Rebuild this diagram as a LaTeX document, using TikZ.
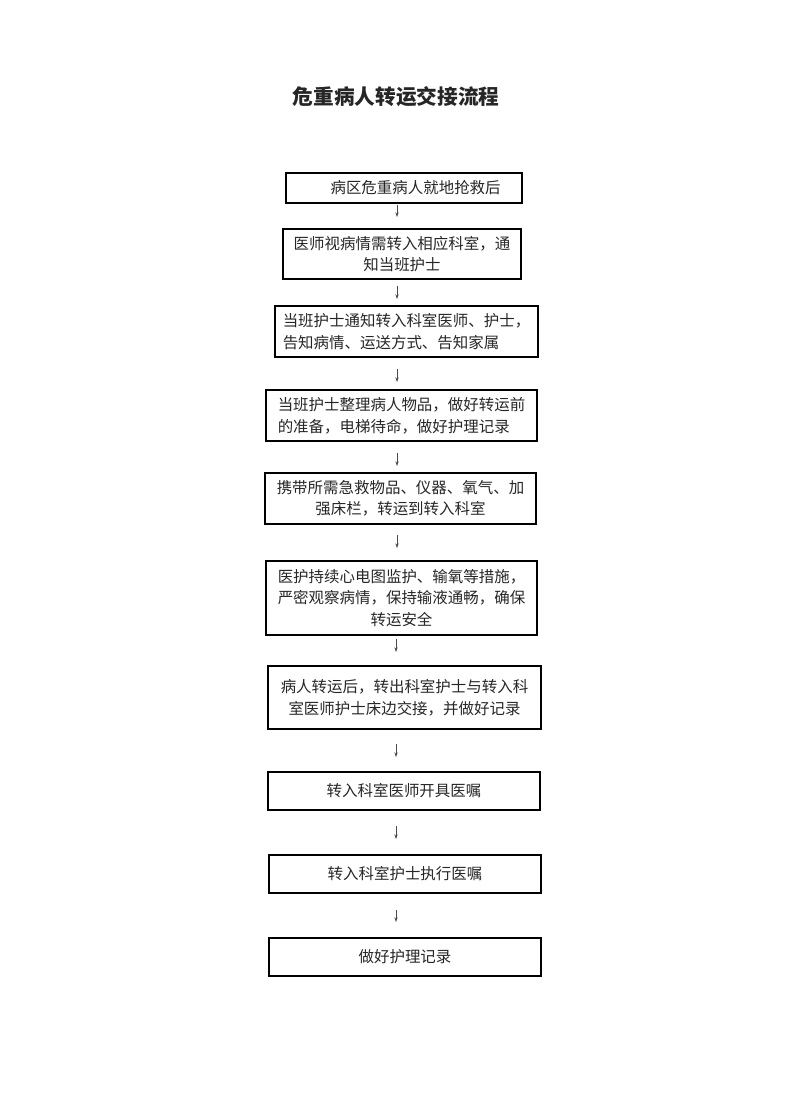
\documentclass[tikz,border=0pt]{standalone}
\usepackage{fontspec}
\newfontfamily\cjk{Noto Sans CJK SC}
\usetikzlibrary{arrows.meta}
\begin{document}
\begin{tikzpicture}[x=0.75pt,y=-0.75pt,
  stepbox/.style={draw=black,line width=0.9pt,inner sep=0pt,align=center,
    font=\cjk\fontsize{11.6pt}{16.2pt}\selectfont,text=black!85},
  flow/.style={-{Stealth[length=3.5pt,width=2.5pt]},line width=0.5pt,draw=black!70}]
\useasboundingbox (0,0) rectangle (792,1120);
\node[font=\cjk\bfseries\fontsize{15.5pt}{18pt}\selectfont,text=black!85] (title) at (396,97) {危重病人转运交接流程};
\node[stepbox,minimum width=236*0.75pt,minimum height=30*0.75pt] (b1) at (404,188) {\hspace*{1.5em}病区危重病人就地抢救后};
\node[stepbox,minimum width=238*0.75pt,minimum height=50*0.75pt] (b2) at (402,254) {医师视病情需转入相应科室，通\\知当班护士};
\node[stepbox,minimum width=263*0.75pt,minimum height=51*0.75pt,align=left] (b3) at (406.5,331.5) {当班护士通知转入科室医师、护士，\\告知病情、运送方式、告知家属};
\node[stepbox,minimum width=271*0.75pt,minimum height=51*0.75pt,align=left] (b4) at (401.5,415.5) {当班护士整理病人物品，做好转运前\\的准备，电梯待命，做好护理记录};
\node[stepbox,minimum width=271*0.75pt,minimum height=51*0.75pt] (b5) at (400.5,498.5) {携带所需急救物品、仪器、氧气、加\\强床栏，转运到转入科室};
\node[stepbox,minimum width=271*0.75pt,minimum height=74*0.75pt] (b6) at (401.5,598) {医护持续心电图监护、输氧等措施，\\严密观察病情，保持输液通畅，确保\\转运安全};
\node[stepbox,minimum width=273*0.75pt,minimum height=63*0.75pt] (b7) at (404.5,697.5) {病人转运后，转出科室护士与转入科\\室医师护士床边交接，并做好记录};
\node[stepbox,minimum width=272*0.75pt,minimum height=38*0.75pt] (b8) at (404,791) {转入科室医师开具医嘱};
\node[stepbox,minimum width=272*0.75pt,minimum height=38*0.75pt] (b9) at (405,874) {转入科室护士执行医嘱};
\node[stepbox,minimum width=272*0.75pt,minimum height=38*0.75pt] (b10) at (405,957) {做好护理记录};
\coordinate (a1s) at (397,205); \coordinate (a1e) at (397,217);
\coordinate (a2s) at (397,286); \coordinate (a2e) at (397,299);
\coordinate (a3s) at (397,369); \coordinate (a3e) at (397,382);
\coordinate (a4s) at (397,453); \coordinate (a4e) at (397,466);
\coordinate (a5s) at (397,535); \coordinate (a5e) at (397,548);
\coordinate (a6s) at (396,639); \coordinate (a6e) at (396,652);
\coordinate (a7s) at (396,744); \coordinate (a7e) at (396,757);
\coordinate (a8s) at (396,826); \coordinate (a8e) at (396,839);
\coordinate (a9s) at (396,910); \coordinate (a9e) at (396,922);
\foreach \i in {1,...,9} \draw[flow] (a\i s) -- (a\i e);
\end{tikzpicture}
\end{document}
